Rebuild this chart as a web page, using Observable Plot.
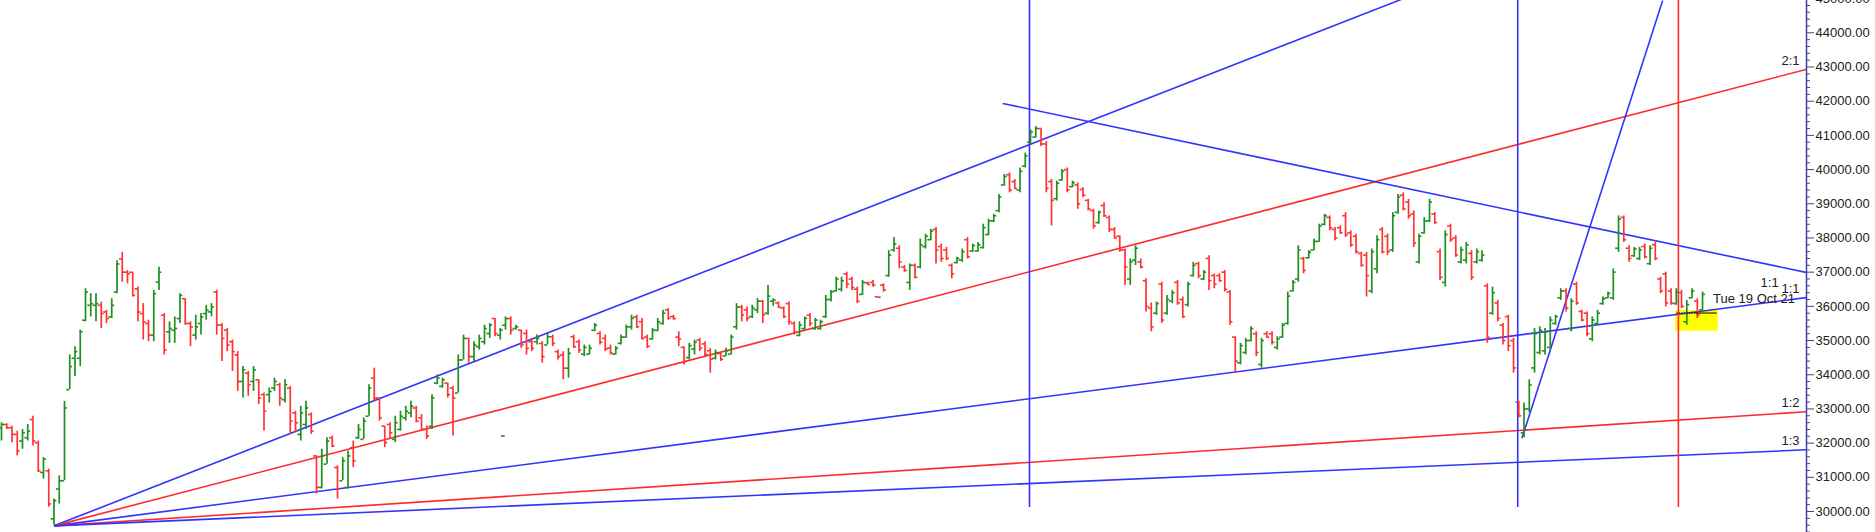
<!DOCTYPE html>
<html><head><meta charset="utf-8">
<script src="https://cdn.jsdelivr.net/npm/d3@7"></script>
<script src="https://cdn.jsdelivr.net/npm/@observablehq/plot@0.6"></script>
<style>
html,body{margin:0;padding:0;background:#fff;}
#chart svg{display:block;}
</style></head><body><div id="chart"></div>
<script>
// ---- OHLC bars (bar index = position in arrays) ----
const opens = [
32449,32545,32449,32255,32061,32158,32690,32013,31142,31190,
29786,30658,30900,33562,34481,34481,35595,36031,36031,36031,
35837,35692,36417,37385,36998,36998,36514,35788,35498,35159,
36708,35740,35256,35304,35643,36224,35498,35159,35498,35788,
35837,36417,35450,35304,34966,34578,33804,34046,33804,33852,
33417,33417,33610,33707,33271,33610,32884,32255,32545,32836,
31626,30706,31384,32158,31287,30900,30706,31868,32158,32110,
32787,33900,33320,32497,32545,32110,32400,32739,32884,33029,
32739,32400,32497,33755,33659,33755,33610,33465,34433,35062,
34530,34820,34965,35207,35643,35159,35449,35643,35353,35304,
35207,34965,34965,34917,34869,35111,34675,34578,34191,35111,
34965,34600,34600,35300,35208,35063,34780,34600,34917,35100,
35400,35690,35550,35100,35050,35300,35500,35900,35700,35100,
34800,34500,34750,35014,34900,34700,34480,34620,34550,34600,
35400,35980,35900,35700,35900,36150,35800,36150,36100,35950,
36080,35500,35150,35350,35740,35350,35350,35700,36200,36450,
36500,36950,36800,36500,36350,36690,36700,36280,36620,36900,
37650,37700,37150,36700,37200,37150,37750,37950,38250,37750,
37650,37200,37280,37350,37950,37620,37620,37720,38100,38500,
38800,39550,39850,39650,39400,40100,40800,40950,41200,40750,
39650,39150,39700,40000,39500,39550,39420,39100,38800,38450,
38950,38600,38250,38050,37650,36800,37350,37300,36750,35950,
35800,36650,35800,36150,36700,36200,36050,36900,37250,36800,
37400,36900,36900,37000,36420,35100,34350,34650,35000,35200,
34300,35200,35200,34800,35100,35500,36450,36800,37400,37420,
37650,37900,38400,38600,38250,38300,38650,38150,38050,37550,
37500,36450,37100,38250,38050,37650,38750,39250,39050,38700,
37300,38150,38500,38700,37600,36700,38350,38000,37300,37350,
37550,37300,37350,36600,35800,36100,35450,35700,35000,33200,
32300,33000,34200,34650,34700,34800,35500,36250,36450,35350,
36650,35850,35800,35050,35500,36080,36250,36250,37700,38600,
37700,37480,37400,37750,37250,37800,36800,36950,36450,36080,
36400,35550,36250,36150,35900];
const highs = [
32594,32565,32497,32352,32400,32545,32788,32061,31577,31239,
30367,31045,33223,34578,34820,35304,36514,36369,36369,36127,
35885,36224,37337,37579,37047,36998,36563,36079,35595,36466,
37143,35788,35546,35692,36369,36224,35546,35740,35788,36031,
36079,36466,35498,35353,35014,34675,34240,34094,34240,33852,
33465,33610,33900,33755,33852,33658,32933,33078,33223,32884,
31626,31819,32158,32207,31335,31578,31771,32061,32545,32739,
33707,34191,33320,32497,32594,32787,32933,33078,33223,33078,
32836,32497,33417,33997,33900,33755,33659,34578,35159,35062,
34965,35159,35449,35498,35643,35353,35691,35691,35449,35304,
35304,35062,35159,34965,35207,35159,34723,34675,34772,35159,
35014,34869,34869,35498,35256,35160,34869,34821,35160,35450,
35740,35740,35644,35160,35353,35644,35886,35934,35740,35256,
34821,34917,35014,35063,34966,34772,34724,34627,34772,35160,
36079,36031,35982,36031,36224,36176,36611,36224,36127,35982,
36127,35546,35546,35691,35788,35643,35595,36320,36466,36853,
36853,36998,36853,36562,36756,36708,36756,36280,36659,37627,
38015,37772,37192,37240,37240,37966,38111,38256,38305,37821,
37724,37240,37434,37676,38015,37821,37870,38402,38547,38693,
39273,39854,39903,39709,40048,40483,41161,41258,41209,40822,
39709,39661,39999,40048,39661,39612,39467,39128,38838,38789,
39031,38644,38305,38063,37676,37386,37773,37386,36805,36100,
36128,36708,36321,36466,36757,36273,36708,37289,37289,37047,
37483,36950,36950,37047,36466,35111,34918,35063,35402,35256,
35063,35256,35256,35111,35498,36418,36757,37773,37434,37628,
37967,38402,38693,38644,38306,38354,38741,38209,38112,37580,
37580,37677,38064,38306,38112,38741,39274,39322,39128,38790,
38112,38596,39128,38741,37677,38209,38402,38064,37725,37870,
37628,37677,37628,36660,36563,36176,35498,35740,35063,33224,
33175,33853,35353,35402,35353,35692,35740,36515,36515,36224,
36708,35886,35837,35692,35886,36273,36418,37096,38644,38644,
37773,37725,37725,37822,37773,37870,36854,36999,36515,36515,
36466,36176,36515,36224,36418];
const lows = [
32061,32400,32013,31626,31819,32061,31916,31142,30948,30125,
29600,30222,30900,33562,33949,34240,35546,35692,35546,35353,
35498,35643,36369,36708,36659,36272,35546,35014,34966,34966,
36466,34578,34917,34917,35498,35450,34820,35014,35159,35595,
35692,35159,34385,34675,34094,33513,33320,33368,33513,33126,
32352,33175,33513,33078,33175,32255,32304,32061,32400,32255,
30513,30658,31384,31868,30367,30900,30658,31287,32110,32110,
32787,33223,32642,31868,32110,32013,32352,32642,32739,32594,
32352,32110,32400,33707,33610,33320,32207,33465,34433,34336,
34385,34723,34869,35062,35111,35014,35304,35159,35304,34772,
34578,34675,34869,34336,34869,34820,34433,33852,33900,34772,
34627,34530,34579,35256,34869,34676,34579,34579,34869,35063,
35305,35353,35014,34772,35014,35256,35450,35595,35600,34821,
34288,34434,34579,34676,34530,34046,34434,34385,34530,34579,
35305,35547,35547,35644,35789,35498,35740,36000,35933,35643,
35449,35159,35110,35304,35401,35304,35304,35643,36127,36417,
36417,36514,36466,36078,36320,36611,36562,36265,36417,36853,
37579,37095,36998,36466,36804,37095,37676,37918,37240,37288,
37337,36804,37240,37288,37386,37579,37579,37676,38063,38451,
38741,39515,39322,39419,39322,40048,40725,40919,40677,39322,
38354,39080,39661,39322,39467,38838,39176,38789,38257,38402,
38596,38160,37967,37579,36611,36611,37192,37095,35837,35256,
35740,35498,35740,36079,36031,35644,35982,36854,36805,36757,
36466,36515,36708,36418,35450,34046,34288,34579,34966,34530,
34192,35063,34869,34724,35063,35450,36418,36708,36950,37386,
37628,37870,38354,38209,37918,38112,38015,37725,37531,37144,
36273,36370,36950,37531,37483,37580,38693,38790,38548,37725,
37241,38112,38451,38402,36757,36563,37870,37434,37241,37241,
36757,37241,37289,34918,35740,35547,34869,34676,34046,32740,
32159,32885,34046,34579,34579,34724,35450,36176,35837,35256,
36031,35547,35111,34966,35450,36031,36224,36176,37580,37870,
37289,37434,37337,37386,37192,37337,36370,35982,36031,36031,
35934,35450,36224,35644,35837];
const closes = [
32545,32449,32255,31771,32304,32352,32061,31190,31530,30222,
30319,30900,33029,34240,34675,35256,36417,36079,36079,35788,
35643,36031,37240,36998,36950,36321,35837,35546,35159,36369,
36998,34723,35353,35353,36321,35498,35401,35401,35692,35885,
35982,35450,35062,34869,34675,33804,34143,33707,34143,33320,
32933,33513,33804,33320,33707,32642,32594,32884,33029,32352,
30706,31626,32061,31916,30658,31481,31626,31481,32400,32642,
33610,33320,32739,32013,32303,32594,32787,32933,33078,32642,
32400,32207,33320,33900,33852,33417,33320,34433,35062,34530,
34869,35062,35353,35449,35207,35304,35643,35304,35401,34869,
34772,34772,35062,34530,35111,34917,34530,34191,34627,34820,
34723,34800,34772,35450,34950,34750,34630,34776,35100,35400,
35650,35400,35063,34830,35300,35550,35800,35650,35640,35050,
34385,34850,34950,34780,34600,34450,34650,34450,34700,35100,
35980,35750,35650,35950,36150,35750,36300,36180,35980,35700,
35550,35250,35450,35650,35500,35600,35550,36200,36420,36800,
36750,36650,36550,36150,36700,36640,36620,36265,36480,37500,
37820,37300,37050,37200,36850,37800,38050,38200,37650,37400,
37400,36950,37400,37600,37450,37780,37800,38300,38500,38650,
39200,39800,39400,39450,39950,40400,41100,41200,40750,39450,
39100,39600,39950,39400,39620,39000,39250,38850,38350,38750,
38650,38250,38000,37650,37150,37300,37700,37150,36000,35400,
36080,35600,36200,36400,36100,35700,36650,37200,36900,37000,
36750,36650,36750,36500,35550,34400,34850,35000,35350,34650,
35000,35100,34950,35050,35450,36300,36700,37650,37050,37580,
37900,38350,38650,38300,38000,38150,38100,37800,37600,37200,
36900,37600,37950,37600,37600,38650,39200,38850,38650,37850,
38050,38500,39050,38450,36850,38100,37950,37500,37650,37800,
36850,37600,37500,35100,36400,35650,35000,34850,34200,32800,
33000,33700,35200,35300,35250,35600,35700,36450,35950,36150,
36100,35600,35200,35600,35800,36220,36380,37000,38550,37950,
37400,37680,37650,37450,37700,37400,36450,36100,36100,36420,
36000,36050,36450,35750,36350];

// ---- Gann fan from the low ----
const fanOriginIndex = 10;
const fanOriginPrice = 29580;
const fanPointsPerBar = 20;           // 1:1 slope
const fanRatios = [3, 2, 1, 0.5, 1/3];
const fanLabels = ["3:1", "2:1", "1:1", "1:2", "1:3"];

// ---- other drawn lines (index, price) ----
const trendStartIndex = [190.7, 289.6];
const trendStartPrice = [41935, 32144];
const trendEndIndex   = [343.8, 316.4];
const trendEndPrice   = [36990, 44945];

const vLineIndex = [195.8, 288.8, 319.4];
const vLineKind  = ["blue", "blue", "red"];
const vLineBottom = 30117;

// highlight box and price marker near the last bar
const boxIndex = [318.9, 327.0];
const boxPrice = [35273, 35878];
const markerPrice = 35805;
const markerIndex = [319.1, 322.5, 326.8];

// loose single-price ticks
const looseTickIndex = [95.6];
const looseTickPrice = [32210];

// text annotations
const noteText  = ["1:1"];
const noteIndex = [338.5];
const notePrice = [36697];
const dateLabel = "Tue 19 Oct 21";
const dateLabelPrice = 36229;

// axis
const majorTicks = d3.range(30000, 45001, 1000);
const minorTicks = d3.range(29400, 45001, 200).filter(v => v % 1000 !== 0);

// ---- build ----
const GREEN = "#1f8f1f", RED = "#ff3333", BLUE = "#3333ff", LRED = "#ff2a2a", AXIS = "#40409a";
const xMin = -0.19, xMax = 343.8, yMin = 29386, yMax = 44945;

const bars = opens.map((o, i) => ({i, o, h: highs[i], l: lows[i], c: closes[i]}));
const barColor = d => d.c >= d.o ? GREEN : RED;

const fan = fanRatios.map((r, k) => ({
  k, label: fanLabels[k],
  x1: fanOriginIndex, y1: fanOriginPrice,
  x2: xMax, y2: fanOriginPrice + fanPointsPerBar * r * (xMax - fanOriginIndex)
}));
const trends = trendStartIndex.map((x, k) => ({x1: x, y1: trendStartPrice[k], x2: trendEndIndex[k], y2: trendEndPrice[k]}));
const vlines = vLineIndex.map((x, k) => ({x, kind: vLineKind[k]}));
const notes = noteText.map((t, k) => ({t, x: noteIndex[k], y: notePrice[k]}));
const loose = looseTickIndex.map((x, k) => ({x, y: looseTickPrice[k]}));
const lastIndex = opens.length - 1;

const chart = Plot.plot({
  width: 1875, height: 532,
  marginLeft: 0, marginRight: 69, marginTop: 0, marginBottom: 0,
  x: {domain: [xMin, xMax], axis: null},
  y: {domain: [yMin, yMax], axis: null},
  style: {background: "#fff", fontFamily: "'Liberation Sans', Arial, sans-serif"},
  marks: [
    Plot.rect([{}], {x1: boxIndex[0], x2: boxIndex[1], y1: boxPrice[0], y2: boxPrice[1], fill: "#ffff00"}),
    Plot.link(fan, {x1: "x1", y1: "y1", x2: "x2", y2: "y2", stroke: d => d.k % 2 ? LRED : BLUE, strokeWidth: 1.6, clip: true}),
    Plot.link(trends, {x1: "x1", y1: "y1", x2: "x2", y2: "y2", stroke: BLUE, strokeWidth: 1.6, clip: true}),
    Plot.ruleX(vlines, {x: "x", y1: vLineBottom, y2: yMax, stroke: d => d.kind === "red" ? LRED : BLUE, strokeWidth: 1.6}),
    // bars
    Plot.ruleX(bars, {x: "i", y1: "l", y2: "h", stroke: barColor, strokeWidth: 1.7}),
    Plot.ruleY(bars, {y: "o", x1: d => d.i - 0.55, x2: "i", stroke: barColor, strokeWidth: 1.6}),
    Plot.ruleY(bars, {y: "c", x1: "i", x2: d => d.i + 0.55, stroke: barColor, strokeWidth: 1.6}),
    Plot.ruleY(loose, {y: "y", x1: d => d.x - 0.35, x2: d => d.x + 0.35, stroke: GREEN, strokeWidth: 1.6}),
    // price marker in box
    Plot.ruleY([markerPrice], {x1: markerIndex[0], x2: markerIndex[1], stroke: "#000", strokeWidth: 1, strokeDasharray: "1.5,1"}),
    Plot.ruleY([markerPrice], {x1: markerIndex[1], x2: markerIndex[2], stroke: "#000", strokeWidth: 1}),
    // labels
    Plot.text(fan.filter(d => d.y2 < yMax), {x: "x2", y: "y2", text: "label", textAnchor: "end", dx: -7, dy: -9, fontSize: 13, fill: "#222"}),
    Plot.text(notes, {x: "x", y: "y", text: "t", textAnchor: "end", fontSize: 13, fill: "#222"}),
    Plot.text([dateLabel], {x: lastIndex + 2, y: dateLabelPrice, text: d => d, textAnchor: "start", fontSize: 13, fill: "#222"}),
    // right axis
    Plot.ruleX([xMax], {stroke: AXIS, strokeWidth: 1.5}),
    Plot.axisY({anchor: "right", ticks: minorTicks, tickSize: 3, tickFormat: () => "", stroke: AXIS, label: null}),
    Plot.axisY({anchor: "right", ticks: majorTicks, tickSize: 7, tickPadding: 2, tickFormat: d => d.toFixed(2), fontSize: 13, stroke: AXIS, fill: "#222", label: null})
  ]
});
document.getElementById("chart").appendChild(chart);
</script>
</body></html>
